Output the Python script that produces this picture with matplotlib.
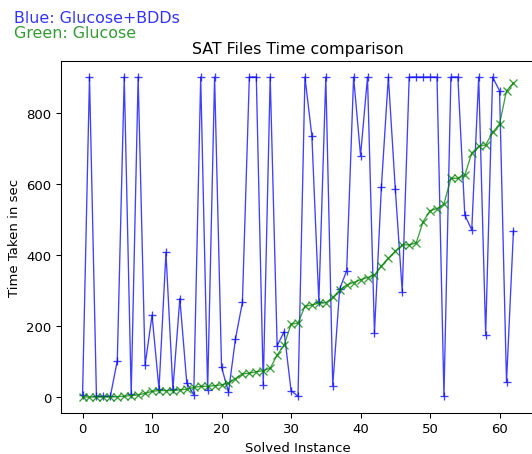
import matplotlib
matplotlib.use("Agg")
import matplotlib.pyplot as plt
import numpy as np

# Data
instances = list(range(63))
glucose_bdds = [5, 900, 2, 2, 2, 102, 900, 8, 900, 90,
                230, 22, 407, 22, 277, 39, 6, 900, 20, 900,
                84, 14, 163, 266, 900, 900, 34, 900, 144, 184,
                18, 2, 900, 733, 268, 900, 32, 304, 355, 900,
                679, 900, 180, 591, 900, 585, 296, 900, 900, 900,
                900, 900, 2, 900, 900, 512, 470, 900, 174, 900,
                861, 41, 468]
glucose = [0, 0, 0, 0, 0, 1, 2, 4, 6, 10,
           16, 18, 18, 18, 20, 22, 27, 30, 30, 32,
           34, 39, 52, 65, 67, 71, 74, 81, 118, 146,
           205, 208, 255, 259, 264, 265, 280, 301, 315, 322,
           330, 336, 343, 369, 390, 410, 428, 428, 433, 493,
           524, 530, 543, 615, 615, 624, 686, 705, 709, 744,
           768, 861, 883]

DPI = 95.6
fig = plt.figure(figsize=(532 / DPI, 455 / DPI), dpi=DPI)
ax = fig.add_axes([61 / 532, 41 / 455, 474 / 532, 352 / 455])

ax.plot(instances, glucose_bdds, 'b+-', linewidth=1, alpha=0.75)
ax.plot(instances, glucose, 'gx-', linewidth=1, alpha=0.75)

ax.set_title("SAT Files Time comparison")
ax.set_xlabel("Solved Instance")
ax.set_ylabel("Time Taken in sec")

fig.text(14 / 532, 1 - 23 / 455, "Blue: Glucose+BDDs", color='blue', fontsize=12,
         va='baseline', ha='left', alpha=0.8)
fig.text(14 / 532, 1 - 37.5 / 455, "Green: Glucose", color='green', fontsize=12,
         va='baseline', ha='left', alpha=0.8)

fig.savefig("out.png", dpi=DPI)
